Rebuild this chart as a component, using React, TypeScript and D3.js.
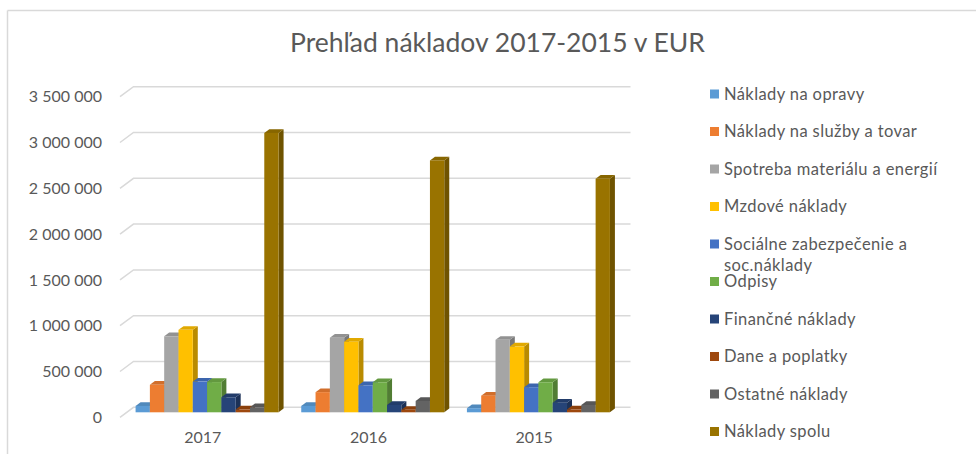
import React from "react";
import * as d3 from "d3";

const years = ["2017", "2016", "2015"];
const seriesNames = [
  "Náklady na opravy",
  "Náklady na služby a tovar",
  "Spotreba materiálu a energií",
  "Mzdové náklady",
  "Sociálne zabezpečenie a soc.náklady",
  "Odpisy",
  "Finančné náklady",
  "Dane a poplatky",
  "Ostatné náklady",
  "Náklady spolu",
];
const legendLines = [
  ["Náklady na opravy"],
  ["Náklady na služby a tovar"],
  ["Spotreba materiálu a energií"],
  ["Mzdové náklady"],
  ["Sociálne zabezpečenie a", "soc.náklady"],
  ["Odpisy"],
  ["Finančné náklady"],
  ["Dane a poplatky"],
  ["Ostatné náklady"],
  ["Náklady spolu"],
];
const colors = [
  "#5B9BD5", "#ED7D31", "#A5A5A5", "#FFC000", "#4472C4",
  "#70AD47", "#264478", "#9E480E", "#636363", "#997300",
];
// values per series: [2017, 2016, 2015]
const opravy = [70000, 70000, 45000];
const sluzby = [300000, 220000, 182000];
const material = [830000, 815000, 791000];
const mzdove = [900000, 770000, 718000];
const socialne = [335000, 295000, 274000];
const odpisy = [330000, 328000, 328000];
const financne = [164000, 80000, 105000];
const dane = [30000, 27000, 30000];
const ostatne = [55000, 124000, 80000];
const spolu = [3050000, 2750000, 2550000];
const seriesValues = [opravy, sluzby, material, mzdove, socialne, odpisy, financne, dane, ostatne, spolu];
const yTicks = [0, 500000, 1000000, 1500000, 2000000, 2500000, 3000000, 3500000];

const FONT = "Lato, 'Open Sans', sans-serif";
const TEXT = "#595959";

export default function App() {
  const W = 976, H = 454;
  const frontLeft = 120, frontRight = 617, frontBase = 417.3;
  const DX = 13.5, DY = -10; // full depth vector
  const y = d3.scaleLinear().domain([0, 3500000]).range([0, 320.6]);
  const x0 = d3.scaleBand<string>().domain(years).range([frontLeft, frontRight]);
  const bw = x0.bandwidth();
  const groupW = 143;
  const x1 = d3.scaleBand<string>().domain(seriesNames).range([(bw - groupW - 5) / 2, (bw - groupW - 5) / 2 + groupW]);
  const barW = x1.bandwidth();
  const bdx = 5, bdy = -3.7;
  const fmt = d3.formatLocale({ decimal: ",", thousands: "\u00a0", grouping: [3], currency: ["", ""] }).format(",");

  const bars: JSX.Element[] = [];
  years.forEach((yr, yi) => {
    seriesNames.forEach((s, si) => {
      const v = seriesValues[si][yi];
      const h = y(v);
      const xl = (x0(yr) as number) + DX * 0.5 + (x1(s) as number);
      const yb = frontBase + DY * 0.5;
      const yt = yb - h;
      const c = d3.color(colors[si])!;
      const top = c.darker(0.35).formatHex();
      const side = c.darker(0.9).formatHex();
      bars.push(
        <g key={yr + s}>
          <polygon points={`${xl + barW},${yb} ${xl + barW + bdx},${yb + bdy} ${xl + barW + bdx},${yt + bdy} ${xl + barW},${yt}`} fill={side} />
          <polygon points={`${xl},${yt} ${xl + bdx},${yt + bdy} ${xl + barW + bdx},${yt + bdy} ${xl + barW},${yt}`} fill={top} />
          <rect x={xl} y={yt} width={barW} height={h} fill={colors[si]} />
        </g>
      );
    });
  });

  return (
    <svg width={W} height={H} style={{ position: "absolute", left: 0, top: 0 }} fontFamily={FONT}>
      <rect x={0} y={0} width={W} height={H} fill="#fff" />
      <line x1={7.5} y1={10.5} x2={W} y2={10.5} stroke="#d9d9d9" strokeWidth={1.5} />
      <line x1={7.5} y1={10.5} x2={7.5} y2={H} stroke="#d9d9d9" strokeWidth={1.5} />
      <text x={497.5} y={52} textAnchor="middle" fontSize={26.5} fill={TEXT}>Prehľad nákladov 2017-2015 v EUR</text>
      {yTicks.map((t) => {
        const yf = frontBase - y(t);
        return (
          <g key={t}>
            <polyline points={`${frontLeft},${yf} ${frontLeft + DX},${yf + DY} ${frontRight + DX},${yf + DY}`} fill="none" stroke="#d9d9d9" strokeWidth={1.5} />
            <text x={102} y={yf} dy="0.36em" textAnchor="end" fontSize={16} fill={TEXT}>{fmt(t)}</text>
          </g>
        );
      })}
      {bars}
      {years.map((yr) => (
        <text key={yr} x={(x0(yr) as number) + bw / 2} y={437} dy="0.36em" textAnchor="middle" fontSize={16} fill={TEXT}>{yr}</text>
      ))}
      {legendLines.map((lines, i) => {
        const cy = 94 + i * 37.5;
        return (
          <g key={i}>
            <rect x={710} y={cy - 4.5} width={9} height={9} fill={colors[i]} />
            {lines.map((ln, li) => (
              <text key={li} x={724} y={cy + li * 21.5} dy="0.36em" fontSize={16.5} letterSpacing={0.4} fill={TEXT}>{ln}</text>
            ))}
          </g>
        );
      })}
    </svg>
  );
}
